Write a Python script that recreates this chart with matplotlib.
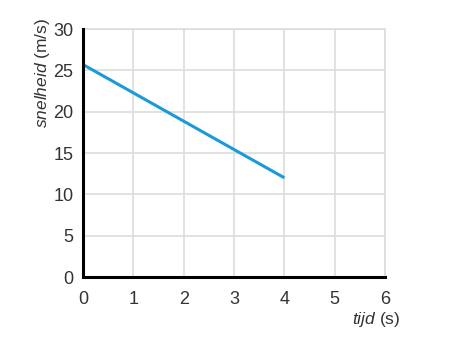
import matplotlib
matplotlib.use("Agg")
import matplotlib.pyplot as plt

# snelheid tegen tijd
tijd = [0, 4]
snelheid = [25.7, 12.0]
x_ticks = [0, 1, 2, 3, 4, 5, 6]
y_ticks = [0, 5, 10, 15, 20, 25, 30]

plt.rcParams['font.family'] = ['Liberation Sans', 'DejaVu Sans']
plt.rcParams['mathtext.fontset'] = 'custom'
plt.rcParams['mathtext.rm'] = 'Liberation Sans'
plt.rcParams['mathtext.it'] = 'Liberation Sans:italic'

fig = plt.figure(figsize=(4.76, 3.55), dpi=100)
ax = fig.add_axes([0.1744, 0.2197, 0.6345, 0.6986])

ax.plot(tijd, snelheid, color='#1a9ad6', linewidth=2.2, solid_capstyle='butt', zorder=3)

ax.set_xlim(0, 6)
ax.set_ylim(0, 30)
ax.set_xticks(x_ticks)
ax.set_yticks(y_ticks)
ax.grid(True, color='#dddddd', linewidth=1.2)
ax.tick_params(length=0, labelsize=13, labelcolor='#333333')
ax.tick_params(axis='x', pad=10)
ax.tick_params(axis='y', pad=7)

for s in ['top', 'right']:
    ax.spines[s].set_color('#dddddd')
    ax.spines[s].set_linewidth(1.2)
for s in ['left', 'bottom']:
    ax.spines[s].set_color('black')
    ax.spines[s].set_linewidth(2.2)
    ax.spines[s].set_zorder(4)

ax.set_ylabel(r'$\it{snelheid}$ (m/s)', loc='top', fontsize=12.5, color='#333333')
ax.yaxis.set_label_coords(-0.102, 1.044)
ax.set_xlabel(r'$\it{tijd}$ (s)', loc='right', fontsize=12.5, color='#333333')
ax.xaxis.set_label_coords(1.05, -0.135)

fig.savefig('out.png', dpi=100)
